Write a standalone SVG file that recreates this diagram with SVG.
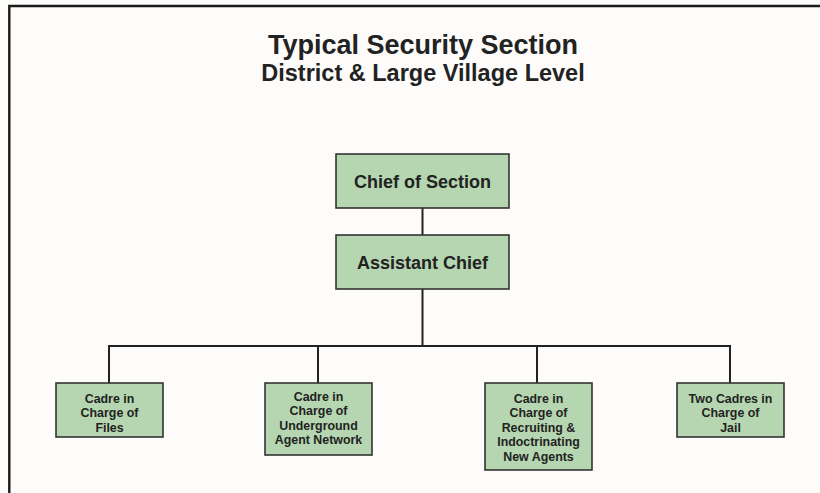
<svg xmlns="http://www.w3.org/2000/svg" width="820" height="493" viewBox="0 0 820 493">
<style>
.box{fill:#b5d6b0;stroke:#333333;stroke-width:1.6}
.ln{stroke:#222222;stroke-width:2;fill:none}
.t{font-family:"Liberation Sans",Arial,sans-serif;font-weight:bold;fill:#222222;text-anchor:middle}
.big{font-size:18px}
.sm{font-size:12.4px}
</style>
<rect x="0" y="0" width="820" height="493" fill="#fdfcfa"/>
<path d="M9.3 493 V6 H820" stroke="#1a1a1a" stroke-width="2.4" fill="none"/>
<text class="t" x="423" y="54" font-size="27">Typical Security Section</text>
<text class="t" x="423" y="81" font-size="23.5">District &amp; Large Village Level</text>
<g id="connectors">
<path class="ln" d="M422.5 208 V235"/>
<path class="ln" d="M422.5 289 V346"/>
<path class="ln" d="M109 383 V346 H730 V383"/>
<path class="ln" d="M318 346 V383"/>
<path class="ln" d="M537 346 V383"/>
</g>
<g id="chief">
<rect class="box" x="336" y="154" width="173" height="54"/>
<text class="t big" x="422.5" y="187.5">Chief of Section</text>
</g>
<g id="assistant">
<rect class="box" x="336" y="235" width="173" height="54"/>
<text class="t big" x="422.5" y="268.5">Assistant Chief</text>
</g>
<g id="files">
<rect class="box" x="56" y="383" width="107" height="54"/>
<text class="t sm" x="109.5"><tspan x="109.5" y="402.5">Cadre in</tspan><tspan x="109.5" y="417">Charge of</tspan><tspan x="109.5" y="431.5">Files</tspan></text>
</g>
<g id="underground">
<rect class="box" x="265" y="383" width="107" height="72"/>
<text class="t sm" x="318.5"><tspan x="318.5" y="400.5">Cadre in</tspan><tspan x="318.5" y="415">Charge of</tspan><tspan x="318.5" y="429.5">Underground</tspan><tspan x="318.5" y="444">Agent Network</tspan></text>
</g>
<g id="recruiting">
<rect class="box" x="485" y="383" width="107" height="87"/>
<text class="t sm" x="538.5"><tspan x="538.5" y="402.5">Cadre in</tspan><tspan x="538.5" y="417">Charge of</tspan><tspan x="538.5" y="431.5">Recruiting &amp;</tspan><tspan x="538.5" y="446">Indoctrinating</tspan><tspan x="538.5" y="460.5">New Agents</tspan></text>
</g>
<g id="jail">
<rect class="box" x="677" y="383" width="107" height="54"/>
<text class="t sm" x="730.5"><tspan x="730.5" y="402.5">Two Cadres in</tspan><tspan x="730.5" y="417">Charge of</tspan><tspan x="730.5" y="431.5">Jail</tspan></text>
</g>
</svg>
